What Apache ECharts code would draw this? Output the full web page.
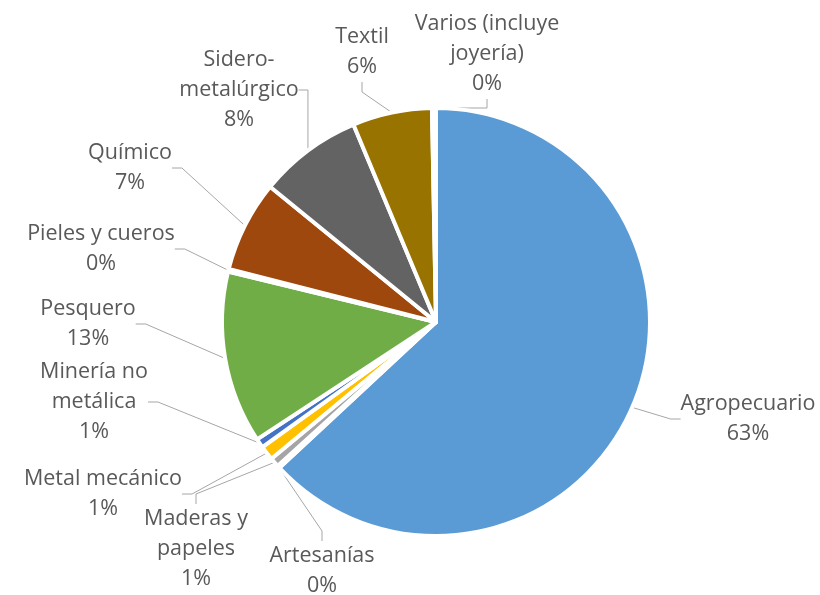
<!DOCTYPE html>
<html>
<head>
<meta charset="utf-8">
<script src="https://cdn.jsdelivr.net/npm/echarts@6/dist/echarts.min.js"></script>
<style>html,body{margin:0;padding:0;background:#fff;}#c{width:820px;height:595px;}</style>
</head>
<body>
<div id="c"></div>
<script>
const categories = ['Agropecuario','Artesanías','Maderas y papeles','Metal mecánico','Minería no metálica','Pesquero','Pieles y cueros','Químico','Sidero-metalúrgico','Textil','Varios (incluye joyería)'];
const labelTexts = ['Agropecuario','Artesanías','Maderas y\npapeles','Metal mecánico','Minería no\nmetálica','Pesquero','Pieles y cueros','Químico','Sidero-\nmetalúrgico','Textil','Varios (incluye\njoyería)'];
const values = [63.0, 0.2, 0.7, 1.1, 0.7, 13.0, 0.2, 6.9, 7.8, 6.0, 0.3];
const colors = ['#5B9BD5','#ED7D31','#A5A5A5','#FFC000','#4472C4','#70AD47','#264478','#9E480E','#636363','#997300','#7CAFDD'];
const labelPos = [[748,419],[322,571],[196,549],[103,494],[94,402],[88,324],[101,249],[130,168],[239,90],[362,52],[487,54]];

const total = values.reduce((a,b)=>a+b,0);
const chart = echarts.init(document.getElementById('c'));
chart.setOption({
  animation:false,
  series:[{
    type:'pie',
    center:[436,322],
    radius:214,
    startAngle:90,
    clockwise:true,
    avoidLabelOverlap:false,
    itemStyle:{borderColor:'#fff',borderWidth:4},
    label:{
      show:true,
      position:'outside',
      fontFamily:'Open Sans',
      fontSize:21.5,
      lineHeight:30,
      color:'#595959',
      align:'center',
      formatter:p=>labelTexts[p.dataIndex]+'\n'+Math.round(p.value/total*100)+'%'
    },
    labelLine:{show:true,length:10,length2:10,lineStyle:{color:'#A6A6A6',width:1}},
    labelLayout:function(params){
      const pos = labelPos[params.dataIndex];
      return {x:pos[0], y:pos[1], align:'center', verticalAlign:'middle'};
    },
    data:categories.map((n,i)=>({name:n,value:values[i],itemStyle:{color:colors[i]}}))
  }]
});
</script>
</body>
</html>
